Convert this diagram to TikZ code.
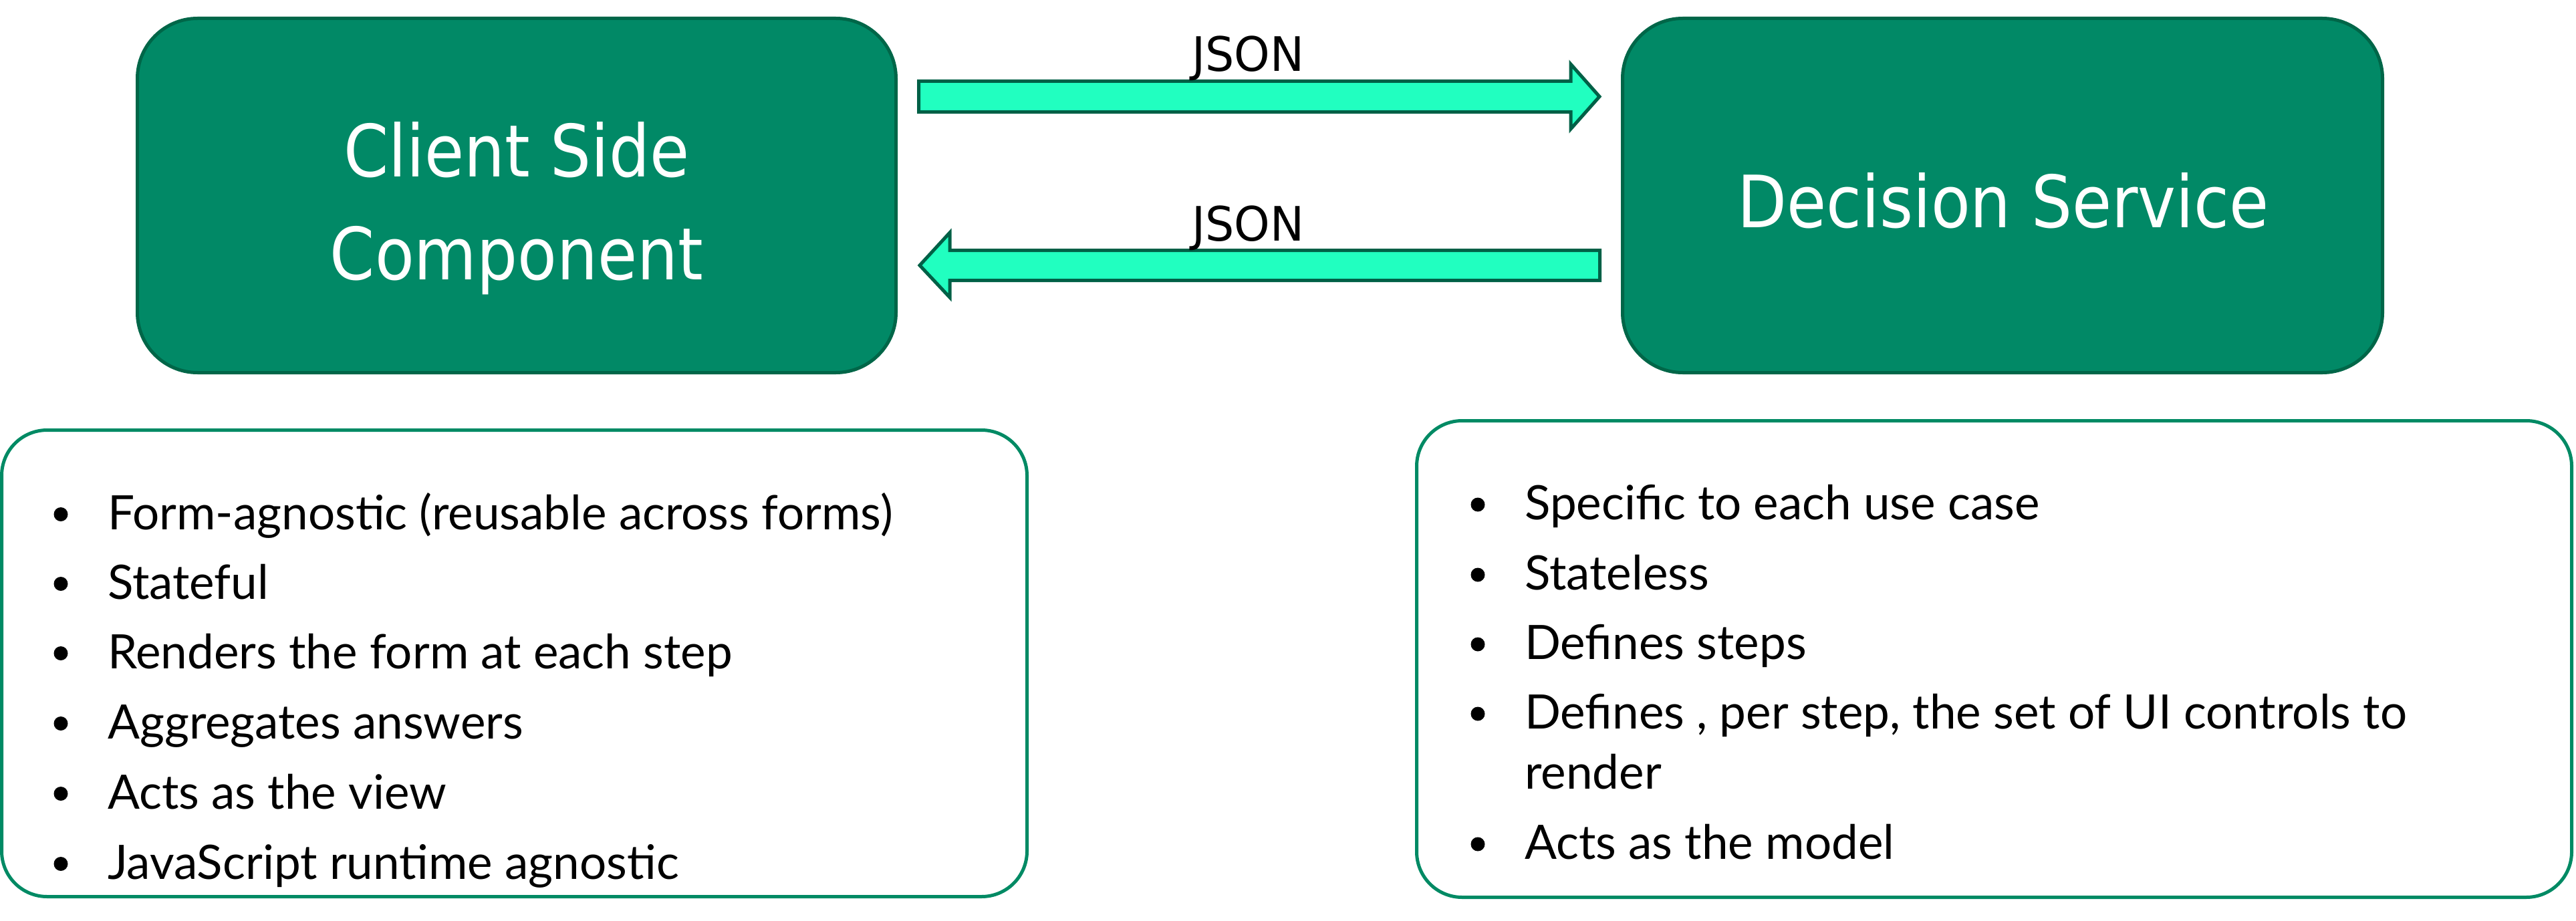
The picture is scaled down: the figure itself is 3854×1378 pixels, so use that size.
\documentclass[tikz,border=0pt]{standalone}
\usepackage{fontspec}
\setmainfont{Lato}
\newfontfamily\titlefont{DejaVu Sans}[FakeStretch=0.89]
\newfontfamily\jsonfont{DejaVu Sans}[FakeStretch=0.96]
\definecolor{boxfill}{RGB}{1,137,102}
\definecolor{boxline}{RGB}{0,102,72}
\definecolor{arrowfill}{RGB}{33,255,192}
\definecolor{arrowline}{RGB}{0,96,70}
\definecolor{listline}{RGB}{0,138,100}
\begin{document}
\begin{tikzpicture}[x=1pt,y=-1pt,
  topbox/.style={draw=boxline, fill=boxfill, line width=5pt, rounded corners=90pt, inner sep=0pt},
  listbox/.style={draw=listline, line width=5pt, rounded corners=68pt, inner sep=0pt},
  titletext/.style={text=white, inner sep=0pt, font=\titlefont\fontsize{108}{154}\selectfont},
  jsontext/.style={anchor=base, inner sep=0pt, font=\jsonfont\fontsize{71}{85}\selectfont},
  itemtext/.style={anchor=base west, inner sep=0pt, font=\fontsize{71}{85}\selectfont},
  blockarrow/.style={draw=arrowline, fill=arrowfill, line width=5pt, line join=miter, miter limit=20}
]
\useasboundingbox (0,0) rectangle (3854,1378);

% main boxes
\node[topbox, minimum width=1135pt, minimum height=530pt] (csc) at (773,292.5) {};
\node[topbox, minimum width=1137pt, minimum height=530pt] (ds) at (2996,292.5) {};
\node[titletext, align=center] (csct) at (773,312) {Client Side\\Component};
\node[titletext, anchor=base] (dst) at (2997,340) {Decision Service};

% block arrows
\coordinate (a1) at (1374.5,144.5);
\coordinate (a2) at (2393,144.5);
\draw[blockarrow] (a1) ++(0,-23) -- (2350,121.5) -- (2350,96) -- (a2) -- (2350,193) -- (2350,167.5) -- (1374.5,167.5) -- cycle;
\coordinate (b1) at (2393.5,397);
\coordinate (b2) at (1376,397);
\draw[blockarrow] (b1) ++(0,-22.5) -- (1421,374.5) -- (1421,348) -- (b2) -- (1421,445) -- (1421,419.5) -- (2393.5,419.5) -- cycle;
\node[jsontext] (j1) at (1867,107) {JSON};
\node[jsontext] (j2) at (1867,360) {JSON};

% list boxes
\node[listbox, minimum width=1534pt, minimum height=698pt] (lb) at (769.5,992.5) {};
\node[listbox, minimum width=1728pt, minimum height=713pt] (rb) at (2983.5,986) {};

% left list
\foreach \y in {792,896,1000,1105,1210,1315} \fill (91,\y-22.5) circle[radius=10.5pt];
\node[itemtext] (l1) at (161,792) {Form-agnostic (reusable across forms)};
\node[itemtext] (l2) at (161,896) {Stateful};
\node[itemtext] (l3) at (161,1000) {Renders the form at each step};
\node[itemtext] (l4) at (161,1105) {Aggregates answers};
\node[itemtext] (l5) at (161,1210) {Acts as the view};
\node[itemtext] (l6) at (161,1315) {JavaScript runtime agnostic};

% right list
\foreach \y in {777,882,986,1090,1285} \fill (2211,\y-22) circle[radius=10.5pt];
\node[itemtext] (r1) at (2281,777) {Specific to each use case};
\node[itemtext] (r2) at (2281,882) {Stateless};
\node[itemtext] (r3) at (2281,986) {Defines steps};
\node[itemtext] (r4) at (2281,1090) {Defines , per step, the set of UI controls to};
\node[itemtext] (r4b) at (2281,1180) {render};
\node[itemtext] (r5) at (2281,1285) {Acts as the model};
\end{tikzpicture}
\end{document}
